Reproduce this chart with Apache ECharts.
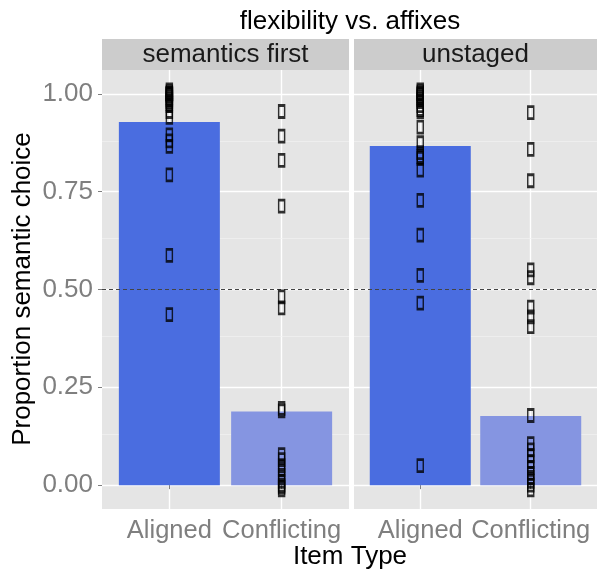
<!DOCTYPE html>
<html><head><meta charset="utf-8">
<script src="https://cdn.jsdelivr.net/npm/echarts@6/dist/echarts.min.js"></script>
<style>html,body{margin:0;padding:0;background:#fff}#c{width:597px;height:569px}</style>
</head><body><div id="c"></div>
<script>
const chartTitle = 'flexibility vs. affixes';
const panels = ['semantics first', 'unstaged'];
const categories = ['Aligned', 'Conflicting'];
const xTitle = 'Item Type';
const yTitle = 'Proportion semantic choice';
const yTicks = [0, 0.25, 0.5, 0.75, 1];
const yMinorLines = [0.125, 0.375, 0.625, 0.875];
const refLine = 0.5;

const semFirstMeans = [0.928, 0.188];
const unstagedMeans = [0.867, 0.177];

const semFirstAligned = [1.01, 1.005, 1.0, 1.0, 1.0, 1.0, 0.995, 0.99, 0.985, 0.98, 0.975, 0.97, 0.955, 0.94, 0.895, 0.88, 0.866, 0.793, 0.587, 0.436];
const semFirstConflicting = [0.955, 0.892, 0.830, 0.713, 0.481, 0.453, 0.196, 0.19, 0.078, 0.065, 0.05, 0.04, 0.025, 0.01, 0.0, -0.005, -0.012];
const unstagedAligned = [1.01, 1.005, 1.0, 1.0, 0.995, 0.99, 0.985, 0.98, 0.97, 0.96, 0.955, 0.915, 0.875, 0.85, 0.84, 0.835, 0.805, 0.728, 0.639, 0.536, 0.465, 0.05];
const unstagedConflicting = [0.952, 0.858, 0.778, 0.55, 0.53, 0.455, 0.43, 0.405, 0.178, 0.106, 0.09, 0.075, 0.06, 0.045, 0.03, 0.02, 0.01, 0.0, -0.012];

const barColors = ['#4A6DE0', '#8595E1'];
const FONT = "'Liberation Sans', Arial, Helvetica, sans-serif";
const GREY = '#7f7f7f';

const panelData = [
  {means: semFirstMeans, pts: [semFirstAligned, semFirstConflicting]},
  {means: unstagedMeans, pts: [unstagedAligned, unstagedConflicting]}
];

const gridPos = [{left: 102, width: 247}, {left: 354, width: 246}];
const TOP = 70, HEIGHT = 439;

const grids = gridPos.map(g => ({left: g.left, top: TOP, width: g.width, height: HEIGHT,
  show: true, backgroundColor: '#e5e5e5', borderWidth: 0, containLabel: false}));

const xAxes = gridPos.map((g, i) => ({
  type: 'value', gridIndex: i, min: 0.4, max: 2.6,
  axisLine: {show: false},
  axisTick: {show: true, customValues: [1, 2], length: 4, lineStyle: {color: GREY, width: 1}},
  axisLabel: {show: true, customValues: [1, 2], formatter: v => categories[Math.round(v) - 1],
    fontSize: 25.5, color: GREY, fontFamily: FONT, margin: 9, hideOverlap: false},
  splitLine: {show: true, lineStyle: {color: '#ffffff', width: 1.4}}
}));

const yAxes = gridPos.map((g, i) => ({
  type: 'value', gridIndex: i, min: -0.061, max: 1.061,
  axisLine: {show: false},
  axisTick: {show: i === 0, customValues: yTicks, length: 4, lineStyle: {color: GREY, width: 1}},
  axisLabel: {show: i === 0, customValues: yTicks, formatter: v => v.toFixed(2),
    fontSize: 26, color: GREY, fontFamily: FONT, margin: 9},
  splitLine: {show: true, lineStyle: {color: '#ffffff', width: 1.4}}
}));

const series = [];
panelData.forEach((p, i) => {
  series.push({
    type: 'bar', xAxisIndex: i, yAxisIndex: i, barWidth: 101, z: 2,
    data: p.means.map((m, k) => ({value: [k + 1, m], itemStyle: {color: barColors[k]}})),
    markLine: {
      silent: true, symbol: 'none', z: 1, label: {show: false},
      lineStyle: {color: '#f2f2f2', width: 0.7, type: 'solid'},
      data: yMinorLines.map(v => ({yAxis: v}))
    },
    animation: false
  });
  p.pts.forEach((arr, k) => {
    series.push({
      type: 'scatter', xAxisIndex: i, yAxisIndex: i, z: 6,
      symbol: 'rect', symbolSize: [6, 12],
      itemStyle: {color: 'rgba(0,0,0,0)', borderColor: '#000', borderWidth: 2},
      data: arr.map(v => [k + 1, v]),
      animation: false, silent: true
    });
  });
  series.push({
    type: 'scatter', xAxisIndex: i, yAxisIndex: i, data: [], z: 5,
    markLine: {
      silent: true, symbol: 'none', z: 5, label: {show: false},
      lineStyle: {color: '#444444', width: 1, type: [4, 3]},
      data: [{yAxis: refLine}]
    }
  });
});

const graphics = [
  {type: 'text', x: 350, y: 22, style: {text: chartTitle, x: 0, y: 0, align: 'center', verticalAlign: 'middle', font: '26px ' + FONT, fill: '#000'}},
  {type: 'text', x: 350, y: 557, style: {text: xTitle, x: 0, y: 0, align: 'center', verticalAlign: 'middle', font: '26px ' + FONT, fill: '#000'}},
  {type: 'text', x: 23, y: 289, rotation: Math.PI / 2, style: {text: yTitle, x: 0, y: 0, align: 'center', verticalAlign: 'middle', font: '26px ' + FONT, fill: '#000'}}
];
gridPos.forEach((g, i) => {
  graphics.push({type: 'rect', shape: {x: g.left, y: 39, width: g.width, height: TOP - 39}, style: {fill: '#cccccc'}});
  graphics.push({type: 'text', x: g.left + (i === 0 ? g.width : 243) / 2, y: 55, style: {text: panels[i], x: 0, y: 0, align: 'center', verticalAlign: 'middle', font: '26px ' + FONT, fill: '#1a1a1a'}});
});

const chart = echarts.init(document.getElementById('c'), null, {renderer: 'canvas'});
chart.setOption({
  animation: false,
  grid: grids, xAxis: xAxes, yAxis: yAxes, series: series, graphic: graphics
});
</script>
</body></html>
